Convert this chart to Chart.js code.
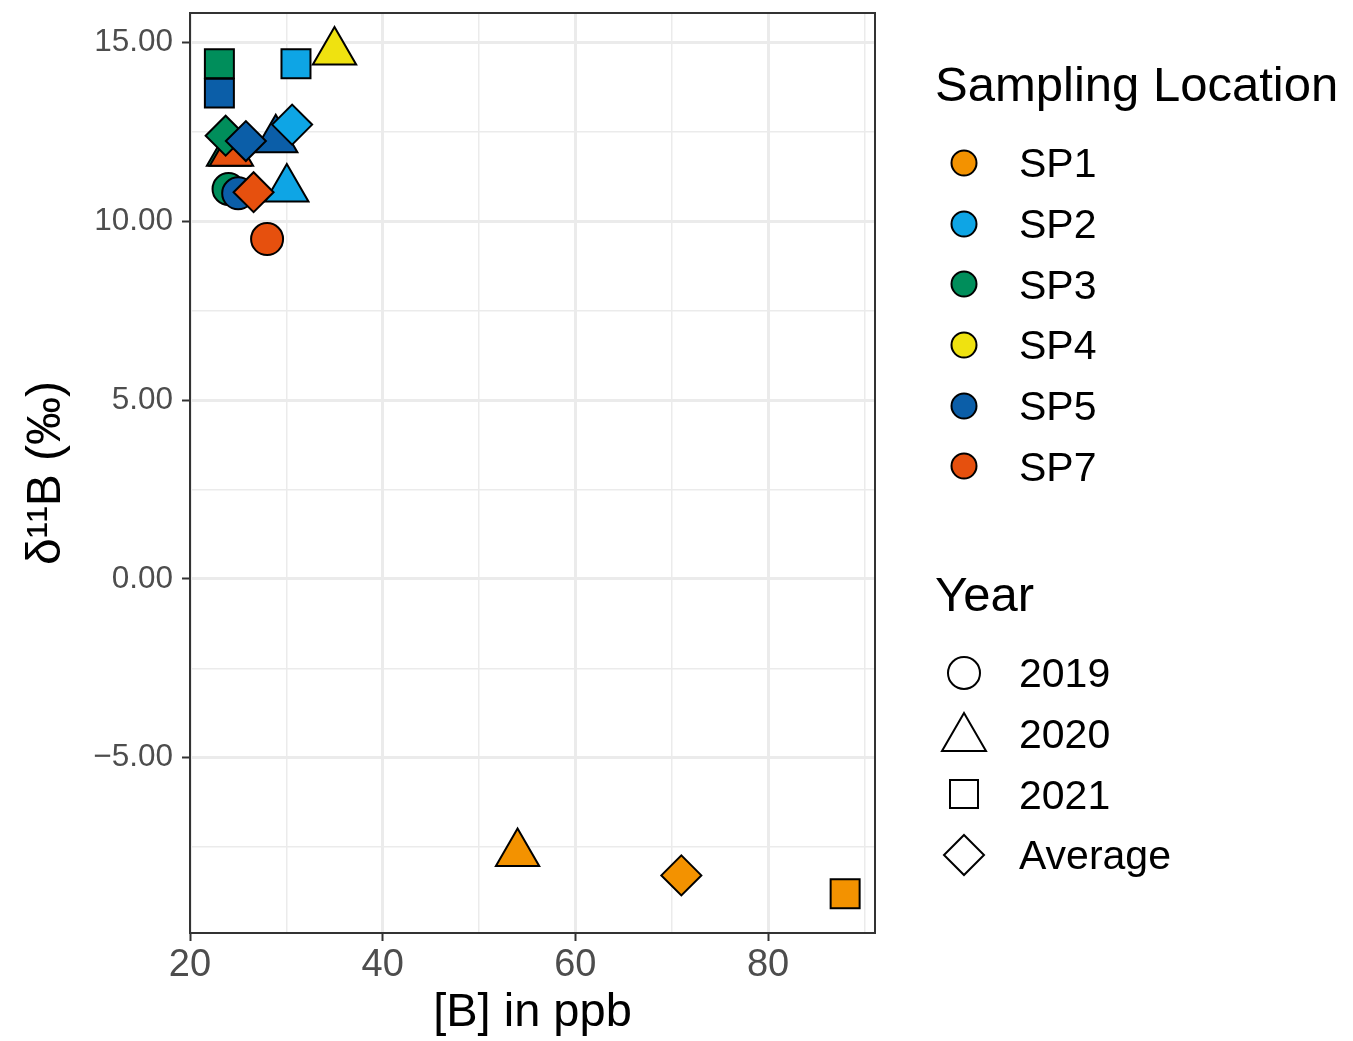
<!DOCTYPE html>
<html>
<head>
<meta charset="utf-8">
<script src="https://cdn.jsdelivr.net/npm/chart.js@4/dist/chart.umd.min.js"></script>
<style>
  html, body { margin: 0; padding: 0; background: #fff; }
  #wrap { position: relative; width: 1353px; height: 1041px; font-family: "Liberation Sans", Arial, sans-serif; }
  #chart { position: absolute; left: 0; top: 0; }
  .legend { position: absolute; left: 935px; color: #000; }
  .legend .title { font-size: 49px; line-height: 49px; white-space: nowrap; }
  .legend .item { position: relative; height: 60.7px; font-size: 41px; }
  .legend .item svg { position: absolute; left: 0; top: 0; }
  .legend .item span { position: absolute; left: 84px; top: 50%; transform: translateY(-50%); line-height: 41px; }
</style>
</head>
<body>
<div id="wrap">
  <canvas id="chart" width="1353" height="1041"></canvas>
  <div class="legend" id="locLegend" style="top:60px"></div>
  <div class="legend" id="yearLegend" style="top:570px"></div>
</div>
<script>
const locations = ['SP1', 'SP2', 'SP3', 'SP4', 'SP5', 'SP7'];
const locationColors = ['#F39200', '#0EA5E5', '#008E5B', '#EFE210', '#0B5EA8', '#E6500E'];
const years = ['2019', '2020', '2021', 'Average'];

// [B] in ppb and d11B per location (order as in `locations`), null = no sample
const boron2019 = [null, null, 24.0, null, 25.0, 28.0];
const delta2019 = [null, null, 10.90, null, 10.78, 9.50];
const boron2020 = [54.0, 30.05, 24.0, 35.0, 28.9, 24.3];
const delta2020 = [-7.68, 10.90, 11.90, 14.73, 12.28, 11.90];
const boron2021 = [88.0, 31.0, 23.05, null, 23.05, null];
const delta2021 = [-8.80, 14.40, 14.40, null, 13.58, null];
const boronAvg = [71.0, 30.6, 23.7, null, 25.8, 26.6];
const deltaAvg = [-8.29, 12.70, 12.39, null, 12.24, 10.81];

const xTicks = [20, 30, 40, 50, 60, 70, 80, 90];
const xLabels = [20, 40, 60, 80];
const yTicks = [-7.5, -5, -2.5, 0, 2.5, 5, 7.5, 10, 12.5, 15];
const yLabels = [-5, 0, 5, 10, 15];

const boronByYear = [boron2019, boron2020, boron2021, boronAvg];
const deltaByYear = [delta2019, delta2020, delta2021, deltaAvg];
const yearStyles = ['circle', 'triangle', 'rect', 'rectRot'];
const yearRadius = [16, 25, 20.5, 20];

const datasets = years.map((yr, j) => {
  const pts = [];
  locations.forEach((loc, i) => {
    if (boronByYear[j][i] !== null) {
      pts.push({ x: boronByYear[j][i], y: deltaByYear[j][i], loc: i });
    }
  });
  return {
    label: yr,
    data: pts,
    order: years.length - j,
    pointStyle: yearStyles[j],
    pointRadius: yearRadius[j],
    pointHoverRadius: yearRadius[j],
    pointBorderColor: '#000',
    pointBorderWidth: 2,
    pointHoverBorderWidth: 2,
    pointBackgroundColor: ctx => ctx.raw ? locationColors[ctx.raw.loc] : '#000',
    pointHoverBackgroundColor: ctx => ctx.raw ? locationColors[ctx.raw.loc] : '#000',
    showLine: false
  };
});

const panelBorder = {
  id: 'panelBorder',
  afterDatasetsDraw(chart) {
    const a = chart.chartArea;
    const ctx = chart.ctx;
    ctx.save();
    ctx.strokeStyle = '#333';
    ctx.lineWidth = 2;
    ctx.strokeRect(a.left, a.top, a.right - a.left, a.bottom - a.top);
    ctx.restore();
  }
};

const fontFamily = '"Liberation Sans", Arial, sans-serif';

new Chart(document.getElementById('chart'), {
  type: 'scatter',
  data: { datasets: datasets },
  plugins: [panelBorder],
  options: {
    responsive: false,
    animation: false,
    events: [],
    layout: { autoPadding: false, padding: { left: 0, right: 1353 - 875, top: 13, bottom: 0 } },
    plugins: { legend: { display: false }, tooltip: { enabled: false } },
    scales: {
      x: {
        type: 'linear',
        min: 20,
        max: 91.1,
        afterBuildTicks: scale => { scale.ticks = xTicks.map(v => ({ value: v })); },
        afterFit: scale => {
          scale.height = 1041 - 933;
          scale.paddingLeft = 0;
          scale.paddingRight = 0;
        },
        ticks: {
          autoSkip: false,
          maxRotation: 0,
          color: '#4D4D4D',
          font: { family: fontFamily, size: 38 },
          padding: 2,
          callback: v => xLabels.includes(v) ? String(v) : ''
        },
        grid: {
          color: '#EBEBEB',
          lineWidth: ctx => xLabels.includes(ctx.tick && ctx.tick.value) ? 3 : 1.5,
          tickColor: ctx => xLabels.includes(ctx.tick && ctx.tick.value) ? '#333' : 'rgba(0,0,0,0)',
          tickLength: 8,
          tickWidth: 2
        },
        border: { display: false },
        title: {
          display: true,
          text: '[B] in ppb',
          color: '#000',
          font: { family: fontFamily, size: 47 },
          padding: { top: 0, bottom: 0 }
        }
      },
      y: {
        type: 'linear',
        min: -9.9,
        max: 15.82,
        afterBuildTicks: scale => { scale.ticks = yTicks.map(v => ({ value: v })); },
        afterFit: scale => {
          scale.width = 190;
          scale.paddingTop = 0;
          scale.paddingBottom = 0;
        },
        ticks: {
          autoSkip: false,
          color: '#4D4D4D',
          font: { family: fontFamily, size: 31.5 },
          padding: 9,
          callback: v => yLabels.includes(v) ? v.toFixed(2).replace('-', '\u2212') : ''
        },
        grid: {
          color: '#EBEBEB',
          lineWidth: ctx => yLabels.includes(ctx.tick && ctx.tick.value) ? 3 : 1.5,
          tickColor: ctx => yLabels.includes(ctx.tick && ctx.tick.value) ? '#333' : 'rgba(0,0,0,0)',
          tickLength: 8,
          tickWidth: 2
        },
        border: { display: false },
        title: {
          display: true,
          text: '\u03B4\u00B9\u00B9B (\u2030)',
          color: '#000',
          font: { family: fontFamily, size: 48 },
          padding: { top: 18, bottom: 0 }
        }
      }
    }
  }
});

// legends
function svgMarker(style, fill) {
  const s = 'stroke="#000" stroke-width="2"';
  let shape = '';
  if (style === 'circle') shape = `<circle cx="29" cy="30" r="${fill === 'none' ? 16 : 12.5}" fill="${fill}" ${s}/>`;
  if (style === 'triangle') shape = `<polygon points="29,9 51,47 7,47" fill="${fill}" ${s}/>`;
  if (style === 'rect') shape = `<rect x="15" y="16" width="28" height="28" fill="${fill}" ${s}/>`;
  if (style === 'rectRot') shape = `<polygon points="29,10 49,30 29,50 9,30" fill="${fill}" ${s}/>`;
  return `<svg width="60" height="60" viewBox="0 0 60 60">${shape}</svg>`;
}

const locLegend = document.getElementById('locLegend');
locLegend.innerHTML = '<div class="title" style="margin-bottom:24px">Sampling Location</div>' +
  locations.map((loc, i) =>
    `<div class="item">${svgMarker('circle', locationColors[i])}<span>${loc}</span></div>`).join('');

const yearLegend = document.getElementById('yearLegend');
yearLegend.innerHTML = '<div class="title" style="margin-bottom:24px">Year</div>' +
  years.map((yr, j) =>
    `<div class="item">${svgMarker(yearStyles[j], 'none')}<span>${yr}</span></div>`).join('');
</script>
</body>
</html>
